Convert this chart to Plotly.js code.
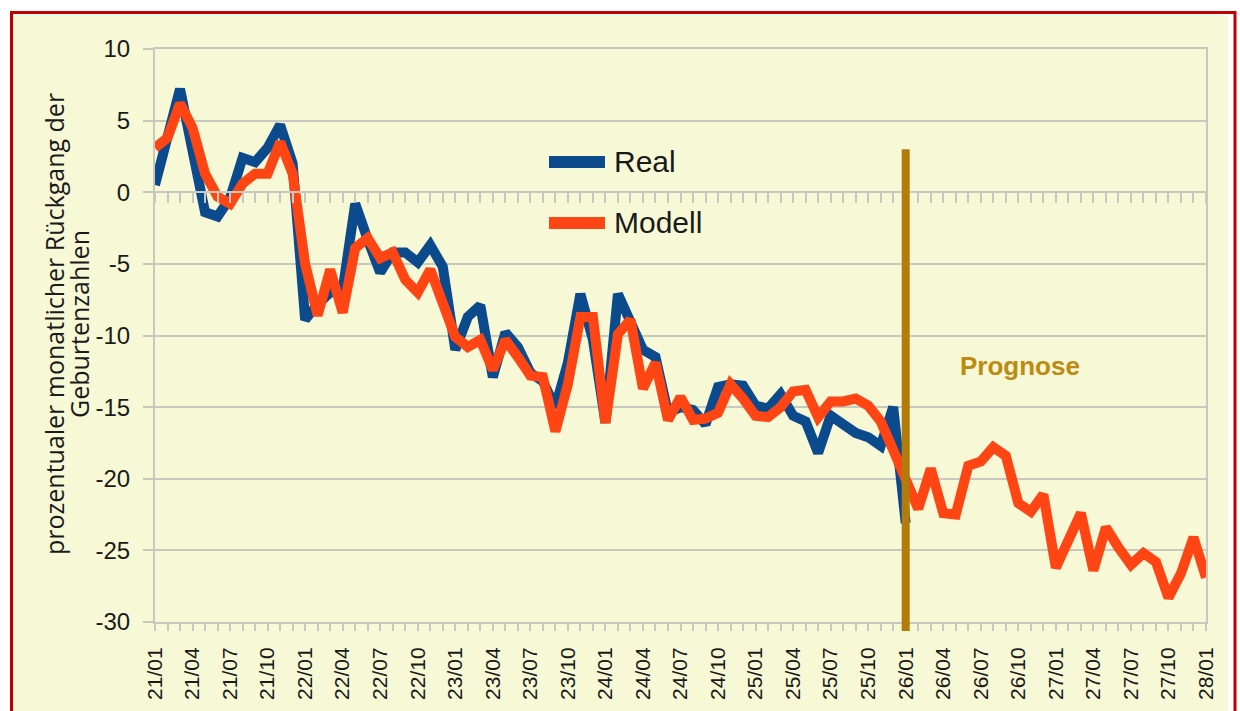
<!DOCTYPE html>
<html>
<head>
<meta charset="utf-8">
<script src="https://cdn.plot.ly/plotly-3.0.1.min.js"></script>
<style>html,body{margin:0;padding:0;background:#fff;}#chart{width:1240px;height:711px;}</style>
</head>
<body>
<div id="chart"></div>
<script>
// ---- data ----
const startYear = 2021, endYear = 2028;
const months = [];
for (let y = startYear; y <= endYear; y++) {
  for (let m = 1; m <= 12; m++) {
    if (y === endYear && m > 1) break;
    months.push(String(y).slice(2) + "/" + String(m).padStart(2, "0"));
  }
}
const labelMonths = ["01", "04", "07", "10"];
const tickLabels = months.map(function (s) { return labelMonths.indexOf(s.slice(3)) >= 0 ? s : ""; });

const realValues = [
  0.5, 3.8, 7.2, 2.9, -1.4, -1.7, -0.4, 2.4, 2.1, 3.1, 4.7, 2.0,
  -8.9, -7.8, -7.0, -6.8, -0.8, -3.3, -5.6, -4.2, -4.2, -4.9, -3.7, -5.2,
  -11.0, -8.7, -7.9, -12.9, -9.8, -10.8, -12.6, -13.2, -15.0, -11.9, -7.1, -10.3,
  -16.1, -7.1, -8.9, -11.0, -11.5, -15.4, -15.0, -15.2, -16.2, -13.6, -13.4, -13.5,
  -14.9, -15.1, -14.1, -15.6, -16.0, -18.2, -15.6, -16.3, -16.8, -17.1, -17.7, -15.0,
  -23.1
];
const modelValues = [
  3.1, 3.8, 6.2, 4.5, 1.3, -0.3, -0.8, 0.6, 1.3, 1.3, 3.5, 1.3,
  -5.0, -8.6, -5.4, -8.4, -3.9, -3.2, -4.6, -4.2, -6.1, -7.0, -5.4, -7.7,
  -10.1, -10.8, -10.3, -12.4, -10.3, -11.5, -12.8, -12.9, -16.7, -13.4, -8.7, -8.7,
  -16.1, -9.9, -8.9, -13.7, -11.9, -15.9, -14.3, -15.9, -15.8, -15.4, -13.4, -14.4,
  -15.6, -15.7, -15.0, -13.9, -13.8, -15.7, -14.6, -14.6, -14.4, -14.9, -16.0, -18.0,
  -20.0, -22.1, -19.3, -22.4, -22.5, -19.1, -18.8, -17.8, -18.4, -21.7, -22.3, -21.1,
  -26.2, -24.4, -22.4, -26.4, -23.4, -24.8, -26.0, -25.2, -25.8, -28.3, -26.6, -24.1,
  -26.9
];
const yTickVals = [-30, -25, -20, -15, -10, -5, 0, 5, 10];
const yTickText = ["-30", "-25", "-20", "-15", "-10", "-5", "0", "5", "10"];
const forecastStart = "26/01";
const forecastTop = 3;
const seriesNames = ["Real", "Modell"];
const forecastLabel = "Prognose";
const yTitleLines = ["prozentualer monatlicher Rückgang der", "Geburtenzahlen"];

// ---- styling ----
const BLUE = "#0B4A8C", RED = "#FF4513", BROWN = "#B27B0B", GRID = "#C8C8C0", BG = "#F7F8D6";
const PL = 155, PR = 1206, PT = 49, PB = 622;
function px(x) { return (x - PL) / (PR - PL); }
function py(y) { return (PB - y) / (PB - PT); }

const traces = [
  { x: months.slice(0, realValues.length), y: realValues, type: "scatter", mode: "lines",
    line: { color: BLUE, width: 10, shape: "linear" }, name: seriesNames[0], hoverinfo: "skip" },
  { x: months, y: modelValues, type: "scatter", mode: "lines",
    line: { color: RED, width: 10, shape: "linear" }, name: seriesNames[1], hoverinfo: "skip" },
  { x: months, y: months.map(function () { return null; }), xaxis: "x2", type: "scatter",
    mode: "lines", showlegend: false, hoverinfo: "skip" }
];

const layout = {
  width: 1240, height: 711,
  margin: { l: PL, r: 1240 - PR, t: PT, b: 711 - PB, pad: 0 },
  paper_bgcolor: "#FFFFFF", plot_bgcolor: "rgba(0,0,0,0)",
  showlegend: false,
  font: { family: "Liberation Sans, Arial, sans-serif", color: "#1A1A1A" },
  xaxis: {
    type: "category", range: [0, months.length - 1],
    tickmode: "array", tickvals: months, ticktext: tickLabels, tickangle: -90,
    ticks: "outside", ticklen: 7, tickwidth: 2, tickcolor: GRID,
    showline: true, linecolor: GRID, linewidth: 2, mirror: true,
    showgrid: false, zeroline: false, ticklabelstandoff: 8,
    tickfont: { family: "Liberation Sans, Arial, sans-serif", size: 21, color: "#1A1A1A" }
  },
  xaxis2: {
    type: "category", overlaying: "x", anchor: "free", position: 0.75, side: "bottom",
    range: [0, months.length - 1], tickmode: "array", tickvals: months,
    ticks: "outside", ticklen: 10, tickwidth: 2, tickcolor: GRID,
    showline: true, linecolor: GRID, linewidth: 2, showgrid: false, showticklabels: false, zeroline: false
  },
  yaxis: {
    range: [-30, 10], tickmode: "array", tickvals: yTickVals, ticktext: yTickText,
    ticks: "outside", ticklen: 10, tickwidth: 2, tickcolor: GRID,
    showline: true, linecolor: GRID, linewidth: 2, mirror: true,
    showgrid: true, gridcolor: GRID, gridwidth: 2, zeroline: false, ticklabelstandoff: 8,
    tickfont: { family: "Liberation Sans Narrow, Liberation Sans, Arial, sans-serif", size: 24, color: "#1A1A1A" }
  },
  shapes: [
    { type: "rect", xref: "paper", yref: "paper", x0: px(13), x1: px(1228), y0: py(713), y1: py(15),
      fillcolor: BG, line: { width: 0 }, layer: "below" },
    { type: "rect", xref: "paper", yref: "paper", x0: px(11.5), x1: px(1235), y0: py(715), y1: py(12.5),
      fillcolor: "rgba(0,0,0,0)", line: { color: "#C00000", width: 3 }, layer: "below" },
    { type: "line", xref: "x", yref: "paper", x0: months.indexOf(forecastStart), x1: months.indexOf(forecastStart),
      y0: py(631), y1: (forecastTop + 30) / 40, line: { color: BROWN, width: 8 }, layer: "above" },
    { type: "line", xref: "paper", yref: "paper", x0: px(549), x1: px(605), y0: py(162), y1: py(162),
      line: { color: BLUE, width: 12 } },
    { type: "line", xref: "paper", yref: "paper", x0: px(549), x1: px(605), y0: py(223), y1: py(223),
      line: { color: RED, width: 12 } }
  ],
  annotations: [
    { text: seriesNames[0], xref: "paper", yref: "paper", x: px(612), y: py(161), xanchor: "left", yanchor: "middle",
      showarrow: false, font: { family: "Liberation Sans, Arial, sans-serif", size: 30, color: "#1A1A1A" } },
    { text: seriesNames[1], xref: "paper", yref: "paper", x: px(612), y: py(222), xanchor: "left", yanchor: "middle",
      showarrow: false, font: { family: "Liberation Sans, Arial, sans-serif", size: 30, color: "#1A1A1A" } },
    { text: "<b>" + forecastLabel + "</b>", xref: "paper", yref: "paper", x: px(1020), y: py(366),
      xanchor: "center", yanchor: "middle", showarrow: false,
      font: { family: "Liberation Sans, Arial, sans-serif", size: 26, color: "#BD8A12" } },
    { text: yTitleLines[0], xref: "paper", yref: "paper", x: px(54), y: py(324), xanchor: "center", yanchor: "middle",
      textangle: -90, showarrow: false, font: { family: "Open Sans, sans-serif", size: 25, color: "#1A1A1A" } },
    { text: yTitleLines[1], xref: "paper", yref: "paper", x: px(79), y: py(324), xanchor: "center", yanchor: "middle",
      textangle: -90, showarrow: false, font: { family: "Open Sans, sans-serif", size: 25, color: "#1A1A1A" } }
  ]
};

Plotly.newPlot("chart", traces, layout, { staticPlot: true, displayModeBar: false });
</script>
</body>
</html>
